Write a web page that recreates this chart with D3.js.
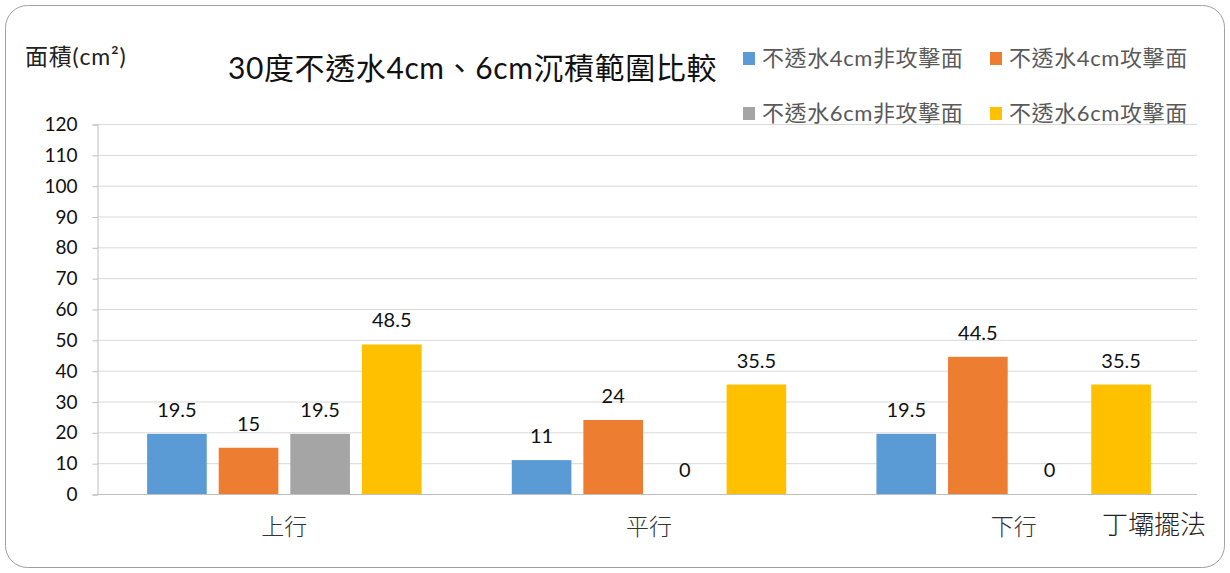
<!DOCTYPE html>
<html><head><meta charset="utf-8">
<script src="https://cdn.jsdelivr.net/npm/d3@7/dist/d3.min.js"></script>
<style>
html,body{margin:0;padding:0;background:#fff;}
svg{display:block;}
text{font-family:"Lato","Noto Sans CJK TC",sans-serif;}
</style></head>
<body>
<svg id="c" width="1230" height="573"></svg>
<script>
const categories = ["上行", "平行", "下行"];
const seriesNames = ["不透水4cm非攻擊面", "不透水4cm攻擊面", "不透水6cm非攻擊面", "不透水6cm攻擊面"];
const seriesColors = ["#5b9bd5", "#ed7d31", "#a5a5a5", "#ffc000"];
const values = [
  [19.5, 11, 19.5],
  [15, 24, 44.5],
  [19.5, 0, 0],
  [48.5, 35.5, 35.5]
];
const yTicks = [0,10,20,30,40,50,60,70,80,90,100,110,120];

const svg = d3.select("#c");
svg.append("rect").attr("x",5.5).attr("y",5.5).attr("width",1219).attr("height",562)
  .attr("rx",22).attr("fill","#fff").attr("stroke","#a0a0a0").attr("stroke-width",1);

const L = 97, R = 1197, T = 124, B = 494;
const y = d3.scaleLinear().domain([0,120]).range([B,T]);
const x0 = d3.scaleBand().domain(categories).range([L+5, R-1]).paddingInner(0).paddingOuter(0);
const x1 = d3.scaleBand().domain(d3.range(seriesNames.length)).range([0, x0.bandwidth()])
  .paddingInner(0.167).paddingOuter(0.63);

// gridlines
svg.append("g").selectAll("line").data(yTicks.filter(d=>d>0)).join("line")
  .attr("x1",L).attr("x2",R).attr("y1",d=>y(d)+0.5).attr("y2",d=>y(d)+0.5)
  .attr("stroke","#d9d9d9").attr("stroke-width",1);

// y axis
const yAxis = d3.axisLeft(y).tickValues(yTicks).tickSize(5).tickPadding(8);
const gy = svg.append("g").attr("transform",`translate(${L+0.5},0.5)`).call(yAxis);
gy.select(".domain").attr("stroke","#bfbfbf");
gy.selectAll(".tick line").attr("stroke","#bfbfbf");
gy.selectAll(".tick text").attr("font-size",19).attr("fill","#111").attr("font-family","Lato, sans-serif").attr("dx",-7);

// bars
const groups = svg.append("g").selectAll("g").data(categories).join("g")
  .attr("transform",d=>`translate(${x0(d)},0)`);
groups.each(function(cat, ci){
  const g = d3.select(this);
  seriesNames.forEach((s, si)=>{
    const v = values[si][ci];
    g.append("rect").attr("x",x1(si)).attr("width",x1.bandwidth())
      .attr("y",y(v)).attr("height",B - y(v)).attr("fill",seriesColors[si]);
    g.append("text").attr("x",x1(si)+x1.bandwidth()/2).attr("y",y(v)-17)
      .attr("text-anchor","middle").attr("font-size",20).attr("fill","#111").text(v);
  });
});

// x axis line
svg.append("line").attr("x1",L).attr("x2",R).attr("y1",B+0.5).attr("y2",B+0.5)
  .attr("stroke","#bfbfbf").attr("stroke-width",1.2);

// category labels
svg.append("g").selectAll("text").data(categories).join("text")
  .attr("x",d=>x0(d)+x0.bandwidth()/2).attr("y",535)
  .attr("text-anchor","middle").attr("font-size",23).attr("fill","#333")
  .attr("font-weight",300).text(d=>d);

svg.append("text").attr("x",1154).attr("y",534).attr("text-anchor","middle")
  .attr("font-size",26).attr("fill","#222").attr("font-weight",300).text("丁壩擺法");

// y label
svg.append("text").attr("x",25).attr("y",65).attr("font-size",23).attr("letter-spacing",0.8).attr("fill","#222").text("面積(cm²)");

// title
svg.append("text").attr("x",228).attr("y",79).attr("font-size",30).attr("letter-spacing",0.6).attr("fill","#111").text("30度不透水4cm、6cm沉積範圍比較");

// legend
const legPos = [[743,58],[990,58],[743,113],[990,113]];
seriesNames.forEach((s,i)=>{
  const [lx,ly] = legPos[i];
  svg.append("rect").attr("x",lx).attr("y",ly-6).attr("width",12).attr("height",13).attr("fill",seriesColors[i]);
  svg.append("text").attr("x",lx+19).attr("y",ly+8).attr("font-size",22).attr("letter-spacing",0.6).attr("fill","#595959").text(s);
});
</script>
</body></html>
